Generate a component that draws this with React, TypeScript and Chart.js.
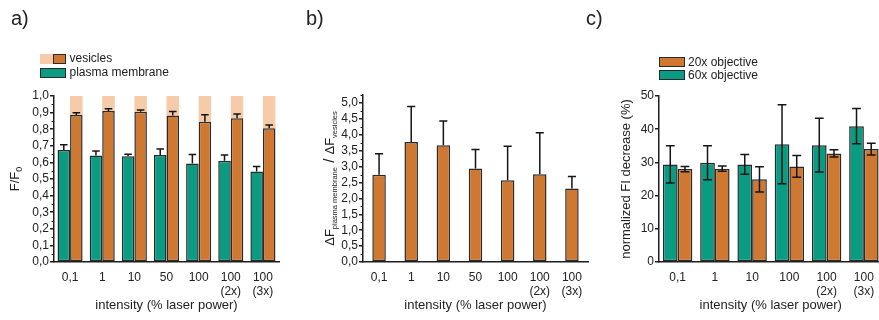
import React, { useEffect, useRef } from 'react';
import { Chart, registerables } from 'chart.js';

Chart.register(...registerables);

const FONT = "'Liberation Sans', Arial, Helvetica, 'DejaVu Sans', sans-serif";
const TEAL = '#0a9b83';
const ORANGE = '#cf7832';
const PEACH = '#f6cba9';
const EDGE = '#2a2a2a';
const AX = '#1e1e1e';
const TXT = '#222222';

// ---------- data: panel a ----------
const categoriesA: (string | string[])[] = ['0,1', '1', '10', '50', '100', ['100', '(2x)'], ['100', '(3x)']];
const plasmaA = [0.675, 0.642, 0.637, 0.645, 0.593, 0.61, 0.545];
const plasmaErrA = [0.032, 0.026, 0.012, 0.036, 0.055, 0.035, 0.03];
const vesiclesA = [0.885, 0.91, 0.905, 0.883, 0.845, 0.866, 0.806];
const vesiclesErrA = [0.014, 0.013, 0.01, 0.023, 0.042, 0.025, 0.02];
const initialA = [1, 1, 1, 1, 1, 1, 1];

// ---------- data: panel b ----------
const categoriesB: (string | string[])[] = ['0,1', '1', '10', '50', '100', ['100', '(2x)'], ['100', '(3x)']];
const ratioB = [2.74, 3.77, 3.67, 2.94, 2.57, 2.76, 2.31];
const ratioErrB = [0.66, 1.12, 0.76, 0.6, 1.07, 1.3, 0.38];

// ---------- data: panel c ----------
const categoriesC: (string | string[])[] = ['0,1', '1', '10', '100', ['100', '(2x)'], ['100', '(3x)']];
const obj60C = [29.4, 29.9, 29.4, 35.5, 35.2, 40.9];
const obj60ErrC = [5.6, 5.1, 3.0, 11.9, 8.1, 5.3];
const obj20C = [28.0, 28.1, 24.9, 28.8, 32.7, 34.0];
const obj20ErrC = [0.8, 0.8, 3.8, 3.3, 1.1, 1.75];

const xTitle = 'intensity (% laser power)';

type ErrSet = { ds: number; err: number[]; both: boolean };

function errorBars(sets: ErrSet[]) {
  return {
    id: 'errorBars',
    afterDatasetsDraw(chart: any) {
      const { ctx } = chart;
      const y = chart.scales.y;
      ctx.save();
      ctx.strokeStyle = '#151515';
      ctx.lineWidth = 1.5;
      sets.forEach((s) => {
        const meta = chart.getDatasetMeta(s.ds);
        const vals = chart.data.datasets[s.ds].data as number[];
        meta.data.forEach((bar: any, i: number) => {
          const v = vals[i];
          const e = s.err[i];
          const x = bar.x;
          const c = bar.width * 0.3;
          const yt = y.getPixelForValue(v + e);
          const yb = y.getPixelForValue(s.both ? v - e : v);
          ctx.beginPath();
          ctx.moveTo(x, yt);
          ctx.lineTo(x, yb);
          ctx.moveTo(x - c, yt);
          ctx.lineTo(x + c, yt);
          if (s.both) {
            ctx.moveTo(x - c, yb);
            ctx.lineTo(x + c, yb);
          }
          ctx.stroke();
        });
      });
      ctx.restore();
    },
  };
}

function minorTicks(major: number, minor: number) {
  return {
    id: 'minorTicks',
    afterDraw(chart: any) {
      const { ctx } = chart;
      const y = chart.scales.y;
      const x0 = chart.chartArea.left;
      ctx.save();
      ctx.strokeStyle = AX;
      ctx.lineWidth = 1;
      const n = Math.round((y.max - y.min) / minor);
      const ratio = Math.round(major / minor);
      for (let i = 0; i <= n; i++) {
        if (i % ratio === 0) continue;
        const py = Math.round(y.getPixelForValue(y.min + i * minor)) + 0.5;
        ctx.beginPath();
        ctx.moveTo(x0 - 2.5, py);
        ctx.lineTo(x0, py);
        ctx.stroke();
      }
      ctx.restore();
    },
  };
}

type Seg = { t: string; size: number; dy?: number };
function richYTitle(xBase: number, segs: Seg[]) {
  return {
    id: 'richYTitle',
    afterDraw(chart: any) {
      const { ctx } = chart;
      const area = chart.chartArea;
      const yc = (area.top + area.bottom) / 2;
      ctx.save();
      ctx.fillStyle = TXT;
      ctx.textBaseline = 'alphabetic';
      ctx.textAlign = 'left';
      let total = 0;
      segs.forEach((s) => {
        ctx.font = `${s.size}px ${FONT}`;
        total += ctx.measureText(s.t).width;
      });
      ctx.translate(xBase, yc);
      ctx.rotate(-Math.PI / 2);
      let cur = -total / 2;
      segs.forEach((s) => {
        ctx.font = `${s.size}px ${FONT}`;
        ctx.fillText(s.t, cur, s.dy || 0);
        cur += ctx.measureText(s.t).width;
      });
      ctx.restore();
    },
  };
}

const fmt1 = (v: any) => Number(v).toFixed(1).replace('.', ',');

function xScale() {
  return {
    type: 'category',
    offset: true,
    grid: { display: false, drawTicks: false },
    border: { display: true, color: AX, width: 1.5 },
    ticks: {
      color: TXT,
      font: { family: FONT, size: 12, lineHeight: 1.15 },
      padding: 9,
      maxRotation: 0,
      autoSkip: false,
    },
    title: {
      display: true,
      text: xTitle,
      color: TXT,
      font: { family: FONT, size: 13 },
      padding: { top: 0, bottom: 7 },
    },
    afterFit: (s: any) => {
      s.height = 58;
    },
  };
}

function yScale(min: number, max: number, step: number, cb: any, width: number, extra: any = {}) {
  return {
    type: 'linear',
    min,
    max,
    grid: { display: true, drawOnChartArea: false, drawTicks: true, tickLength: 4, color: AX, lineWidth: 1.5 },
    border: { display: true, color: AX, width: 1.5 },
    ticks: {
      stepSize: step,
      color: TXT,
      font: { family: FONT, size: 12 },
      padding: 1,
      callback: cb,
      includeBounds: false,
      autoSkip: false,
    },
    afterFit: (s: any) => {
      s.width = width;
    },
    ...extra,
  };
}

const basePlugins = { legend: { display: false }, tooltip: { enabled: false } };

function configA(): any {
  return {
    type: 'bar',
    data: {
      labels: categoriesA,
      datasets: [
        { label: 'plasma membrane', data: plasmaA, backgroundColor: TEAL, borderColor: EDGE, borderWidth: 1.5, borderSkipped: false, stack: 'pm' },
        { label: 'vesicles', data: vesiclesA, backgroundColor: ORANGE, borderColor: EDGE, borderWidth: 1.5, borderSkipped: false, stack: 'v' },
        { label: 'vesicles F0', data: initialA.map((f, i) => f - vesiclesA[i]), backgroundColor: PEACH, borderWidth: 0, stack: 'v' },
      ],
    },
    options: {
      responsive: false,
      animation: false,
      layout: { padding: { top: 96, right: 21, bottom: 0, left: 0 } },
      datasets: { bar: { categoryPercentage: 0.78, barPercentage: 1.0 } },
      plugins: basePlugins,
      scales: {
        x: xScale(),
        y: yScale(0, 1, 0.1, fmt1, 54, { stacked: true }),
      },
    },
    plugins: [
      errorBars([
        { ds: 0, err: plasmaErrA, both: false },
        { ds: 1, err: vesiclesErrA, both: false },
      ]),
      minorTicks(0.1, 0.05),
      richYTitle(19, [
        { t: 'F/F', size: 13 },
        { t: '0', size: 9, dy: 3 },
      ]),
    ],
  };
}

function configB(): any {
  return {
    type: 'bar',
    data: {
      labels: categoriesB,
      datasets: [
        { label: 'ratio', data: ratioB, backgroundColor: ORANGE, borderColor: EDGE, borderWidth: 1.5, borderSkipped: false },
      ],
    },
    options: {
      responsive: false,
      animation: false,
      layout: { padding: { top: 95, right: 12, bottom: 0, left: 0 } },
      datasets: { bar: { categoryPercentage: 0.42, barPercentage: 1.0 } },
      plugins: basePlugins,
      scales: {
        x: xScale(),
        y: yScale(0, 5.25, 0.5, fmt1, 63),
      },
    },
    plugins: [
      errorBars([{ ds: 0, err: ratioErrB, both: false }]),
      minorTicks(0.5, 0.25),
      richYTitle(34, [
        { t: 'ΔF', size: 13 },
        { t: 'plasma membrane', size: 7.5, dy: 3 },
        { t: ' / ', size: 15 },
        { t: 'ΔF', size: 13 },
        { t: 'vesicles', size: 7.5, dy: 3 },
      ]),
    ],
  };
}

function configC(): any {
  return {
    type: 'bar',
    data: {
      labels: categoriesC,
      datasets: [
        { label: '60x objective', data: obj60C, backgroundColor: TEAL, borderColor: EDGE, borderWidth: 1.5, borderSkipped: false },
        { label: '20x objective', data: obj20C, backgroundColor: ORANGE, borderColor: EDGE, borderWidth: 1.5, borderSkipped: false },
      ],
    },
    options: {
      responsive: false,
      animation: false,
      layout: { padding: { top: 96, right: 7.5, bottom: 0, left: 0 } },
      datasets: { bar: { categoryPercentage: 0.79, barPercentage: 1.0 } },
      plugins: basePlugins,
      scales: {
        x: xScale(),
        y: yScale(0, 50, 10, (v: any) => String(v), 69, {
          title: {
            display: true,
            text: 'normalized FI decrease (%)',
            color: TXT,
            font: { family: FONT, size: 13 },
            padding: { top: 29, bottom: 0 },
          },
        }),
      },
    },
    plugins: [
      errorBars([
        { ds: 0, err: obj60ErrC, both: true },
        { ds: 1, err: obj20ErrC, both: true },
      ]),
    ],
  };
}

function ChartCanvas({ left, width, build }: { left: number; width: number; build: () => any }) {
  const ref = useRef<HTMLCanvasElement | null>(null);
  useEffect(() => {
    const chart = new Chart(ref.current as HTMLCanvasElement, build());
    return () => chart.destroy();
  }, []);
  return (
    <canvas
      ref={ref}
      width={width}
      height={320}
      style={{ position: 'absolute', left, top: 0, width, height: 320 }}
    />
  );
}

const txt = (extra: React.CSSProperties): React.CSSProperties => ({
  position: 'absolute',
  fontFamily: FONT,
  color: TXT,
  whiteSpace: 'nowrap',
  ...extra,
});

const swatch = (left: number, top: number, w: number, h: number, bg: string, border = true): React.CSSProperties => ({
  position: 'absolute',
  left,
  top,
  width: w,
  height: h,
  background: bg,
  border: border ? `1px solid ${EDGE}` : 'none',
  boxSizing: 'border-box',
});

export default function App() {
  return (
    <div
      style={{
        position: 'fixed',
        left: 0,
        top: 0,
        width: 879,
        height: 320,
        overflow: 'hidden',
        background: '#ffffff',
      }}
    >
      <ChartCanvas left={0} width={300} build={configA} />
      <ChartCanvas left={300} width={300} build={configB} />
      <ChartCanvas left={590} width={300} build={configC} />

      {/* panel labels */}
      <div style={txt({ left: 11, top: 7, fontSize: 20, lineHeight: '22px' })}>a)</div>
      <div style={txt({ left: 306, top: 7, fontSize: 20, lineHeight: '22px' })}>b)</div>
      <div style={txt({ left: 586, top: 7, fontSize: 20, lineHeight: '22px' })}>c)</div>

      {/* legend a */}
      <div style={swatch(40, 53.5, 13, 10, PEACH, false)} />
      <div style={swatch(52.5, 53.5, 13.5, 10, ORANGE)} />
      <div style={swatch(40, 67.5, 26, 10, TEAL)} />
      <div style={txt({ left: 69.5, top: 52, fontSize: 12, lineHeight: '12px' })}>vesicles</div>
      <div style={txt({ left: 69.5, top: 66, fontSize: 12, lineHeight: '12px' })}>plasma membrane</div>

      {/* legend c */}
      <div style={swatch(658.5, 56.5, 26.5, 10, ORANGE)} />
      <div style={swatch(658.5, 69.5, 26.5, 10.5, TEAL)} />
      <div style={txt({ left: 688, top: 55.5, fontSize: 12, lineHeight: '12px' })}>20x objective</div>
      <div style={txt({ left: 688, top: 69, fontSize: 12, lineHeight: '12px' })}>60x objective</div>
    </div>
  );
}
